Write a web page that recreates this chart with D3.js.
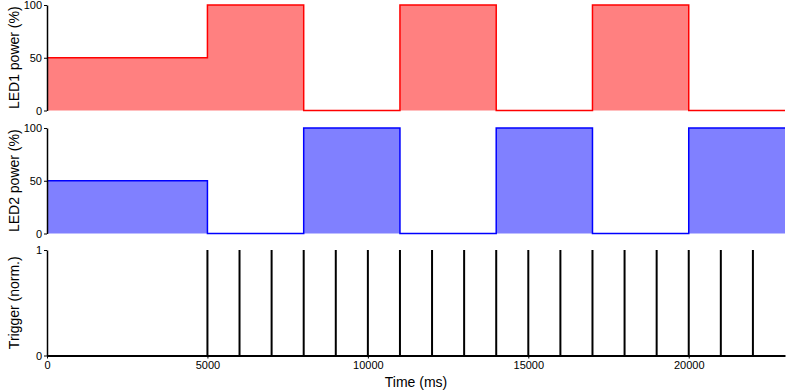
<!DOCTYPE html>
<html>
<head>
<meta charset="utf-8">
<script src="https://cdn.jsdelivr.net/npm/d3@7"></script>
<style>
    body { margin: 0; background: #fff; }
    svg { font-family: "Liberation Sans", Arial, sans-serif; }
    .tick text { font-size: 11px; fill: #000; }
</style>
</head>
<body>
<div id="chart"></div>
<script>
// DATA
// step edges (ms) and power level (%) held from each edge to the next
const stepTimes = [0, 5000, 8000, 11000, 14000, 17000, 20000, 23000];
const led1Power = [50, 100, 0, 100, 0, 100, 0, 0];
const led2Power = [50, 0, 100, 0, 100, 0, 100, 100];
// trigger pulses (ms), each normalised to 1
const triggerTimes = [5000, 6000, 7000, 8000, 9000, 10000, 11000, 12000, 13000,
    14000, 15000, 16000, 17000, 18000, 19000, 20000, 21000, 22000];
const xTicks = [0, 5000, 10000, 15000, 20000];
const powerTicks = [0, 50, 100];
const triggerTicks = [0, 1];

// CHART VARIABLES
const width = 789;
const height = 392;

const svg = d3.select("#chart")
    .append("svg")
        .attr("width", width)
        .attr("height", height);

const x = d3.scaleLinear()
    .domain([0, 23000])
    .range([47, 785]);

// one row per panel
const panels = [
    {label: "LED1 power (%)", values: led1Power, domain: [0, 100], top: 5, bottom: 110.5,
        ticks: powerTicks, stroke: "#ff0000", fill: "#ff8080"},
    {label: "LED2 power (%)", values: led2Power, domain: [0, 100], top: 128, bottom: 233.5,
        ticks: powerTicks, stroke: "#0000ff", fill: "#8080ff"},
    {label: "Trigger (norm.)", domain: [0, 1], top: 250, bottom: 355.5,
        ticks: triggerTicks}
];

panels.forEach(p => {
    const y = d3.scaleLinear()
        .domain(p.domain)
        .range([p.bottom, p.top]);

    if (p.values) {
        const pts = stepTimes.map((t, i) => [t, p.values[i]]);
        const area = d3.area()
            .curve(d3.curveStepAfter)
            .x(d => x(d[0]))
            .y0(y(0))
            .y1(d => y(d[1]));
        const line = d3.line()
            .curve(d3.curveStepAfter)
            .x(d => x(d[0]))
            .y(d => y(d[1]));

        svg.append("path")
            .datum(pts)
            .attr("d", area)
            .attr("fill", p.fill);
        svg.append("path")
            .datum(pts)
            .attr("d", line)
            .attr("fill", "none")
            .attr("stroke", p.stroke)
            .attr("stroke-width", 1.5);
    } else {
        // trigger pulses
        svg.append("g")
            .selectAll("line")
            .data(triggerTimes)
            .join("line")
                .attr("x1", d => x(d))
                .attr("x2", d => x(d))
                .attr("y1", y(0))
                .attr("y2", y(1))
                .attr("stroke", "#000")
                .attr("stroke-width", 2);

        // x axis
        const xAxis = d3.axisBottom(x)
            .tickValues(xTicks)
            .tickSize(3)
            .tickPadding(3)
            .tickSizeOuter(0)
            .tickFormat(d3.format("d"));
        svg.append("g")
            .attr("transform", `translate(0, ${y(0)})`)
            .call(xAxis)
            .call(g => g.select(".domain").attr("stroke-width", 2));
    }

    // y axis
    const yAxis = d3.axisLeft(y)
        .tickValues(p.ticks)
        .tickSize(3)
        .tickPadding(2)
        .tickSizeOuter(0)
        .tickFormat(d3.format("d"));
    svg.append("g")
        .attr("transform", `translate(${x(0)}, 0)`)
        .call(yAxis)
        .call(g => g.select(".domain").attr("stroke-width", 1.5));

    svg.append("text")
        .attr("transform", `translate(14, ${(p.top + p.bottom) / 2}) rotate(-90)`)
        .attr("text-anchor", "middle")
        .attr("dy", "0.35em")
        .attr("font-size", 14)
        .text(p.label);
});

svg.append("text")
    .attr("x", 416)
    .attr("y", 387)
    .attr("text-anchor", "middle")
    .attr("font-size", 14)
    .text("Time (ms)");
</script>
</body>
</html>
